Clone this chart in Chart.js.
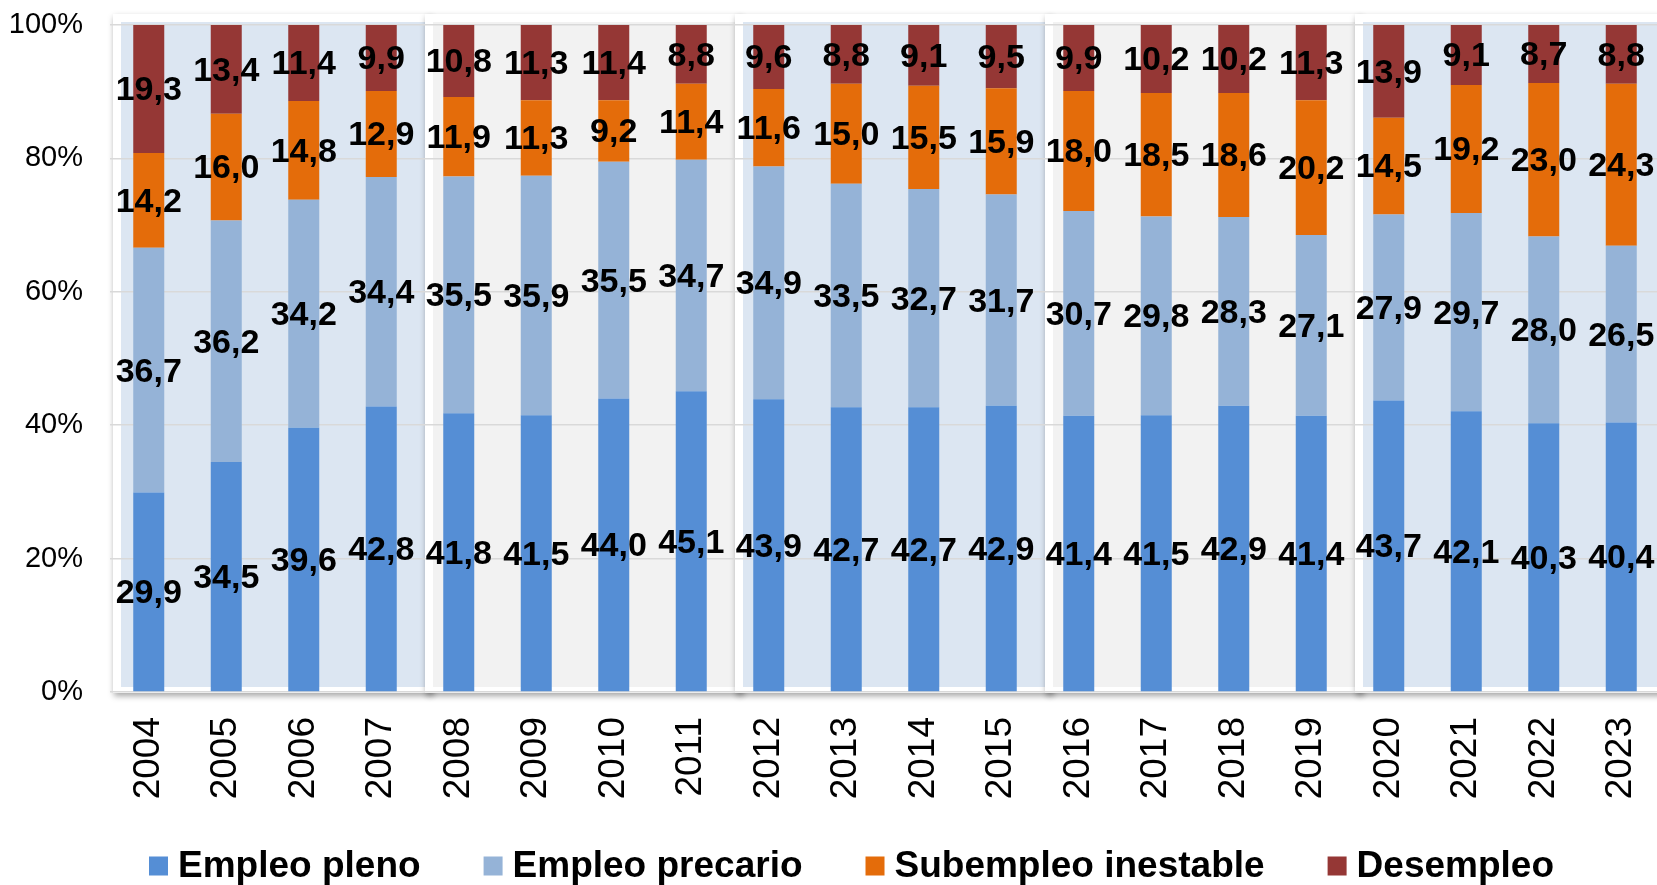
<!DOCTYPE html>
<html lang="es">
<head>
<meta charset="utf-8">
<title>Distribución de la PEA</title>
<script src="https://cdn.jsdelivr.net/npm/chart.js@4.4.1/dist/chart.umd.min.js"></script>
<style>
    html, body { margin: 0; padding: 0; background: #ffffff; overflow: hidden; }
    #wrap { width: 1657px; height: 885px; overflow: hidden; position: relative; }
    #pea { display: block; }
</style>
</head>
<body>
<div id="wrap"><canvas id="pea" width="1700" height="885"></canvas></div>
<script>
// Datos (porcentajes)
const years = ['2004', '2005', '2006', '2007', '2008', '2009', '2010', '2011', '2012', '2013',
               '2014', '2015', '2016', '2017', '2018', '2019', '2020', '2021', '2022', '2023'];
const empleoPleno = [29.9, 34.5, 39.6, 42.8, 41.8, 41.5, 44.0, 45.1, 43.9, 42.7,
                     42.7, 42.9, 41.4, 41.5, 42.9, 41.4, 43.7, 42.1, 40.3, 40.4];
const empleoPrecario = [36.7, 36.2, 34.2, 34.4, 35.5, 35.9, 35.5, 34.7, 34.9, 33.5,
                        32.7, 31.7, 30.7, 29.8, 28.3, 27.1, 27.9, 29.7, 28.0, 26.5];
const subempleoInestable = [14.2, 16.0, 14.8, 12.9, 11.9, 11.3, 9.2, 11.4, 11.6, 15.0,
                            15.5, 15.9, 18.0, 18.5, 18.6, 20.2, 14.5, 19.2, 23.0, 24.3];
const desempleo = [19.3, 13.4, 11.4, 9.9, 10.8, 11.3, 11.4, 8.8, 9.6, 8.8,
                   9.1, 9.5, 9.9, 10.2, 10.2, 11.3, 13.9, 9.1, 8.7, 8.8];
const yTicks = [0, 20, 40, 60, 80, 100];

// Bloques de fondo de cuatro años
const bandStart = [0, 4, 8, 12, 16];
const bandColors = ['#DCE6F2', '#F2F2F2', '#DCE6F2', '#F2F2F2', '#DCE6F2'];

const FONT = '"Liberation Sans", Arial, sans-serif';

/**
 * Dibuja los recuadros de fondo (marco blanco con sombra + relleno).
 */
const bandsPlugin = {
    id: 'bands',
    beforeDraw(chart) {
        const { ctx, chartArea } = chart;
        const xs = chart.scales.x;
        const cw = xs.getPixelForValue(1) - xs.getPixelForValue(0);
        ctx.save();
        bandStart.forEach((start, g) => {
            const b0 = xs.getPixelForValue(start) - cw / 2;
            const b1 = xs.getPixelForValue(start + 3) + cw / 2;
            const innerL = b0 + (g === 0 ? 11 : 13);
            const innerR = b1 + 5;
            const top = chartArea.top - 3;
            const bottom = chartArea.bottom - 5;
            // marco
            ctx.shadowColor = 'rgba(0,0,0,0.35)';
            ctx.shadowBlur = 6;
            ctx.shadowOffsetX = 1;
            ctx.shadowOffsetY = 3;
            ctx.fillStyle = '#ffffff';
            ctx.fillRect(innerL - 8, chartArea.top - 11, innerR - innerL + 16, chartArea.bottom + 1 - (chartArea.top - 11));
            ctx.shadowColor = 'transparent';
            ctx.shadowBlur = 0;
            ctx.shadowOffsetX = 0;
            ctx.shadowOffsetY = 0;
            ctx.fillStyle = bandColors[g];
            ctx.fillRect(innerL, top, innerR - innerL, bottom - top);
        });
        ctx.restore();
    }
};

/**
 * Etiquetas de valores centradas en cada segmento.
 */
const valueLabelsPlugin = {
    id: 'valueLabels',
    afterDatasetsDraw(chart) {
        const { ctx } = chart;
        ctx.save();
        ctx.font = 'bold 34px ' + FONT;
        ctx.fillStyle = '#000000';
        ctx.textAlign = 'center';
        ctx.textBaseline = 'middle';
        chart.data.datasets.forEach((ds, i) => {
            const meta = chart.getDatasetMeta(i);
            meta.data.forEach((bar, j) => {
                const txt = ds.data[j].toFixed(1).replace('.', ',');
                const yTop = Math.max(bar.y, chart.chartArea.top);
                ctx.fillText(txt, bar.x, (yTop + bar.base) / 2 + 2);
            });
        });
        ctx.restore();
    }
};

/**
 * Leyenda inferior dibujada a mano.
 */
const legendPlugin = {
    id: 'customLegend',
    afterDraw(chart) {
        const { ctx } = chart;
        ctx.save();
        ctx.font = 'bold 37px ' + FONT;
        ctx.textBaseline = 'middle';
        ctx.textAlign = 'left';
        let x = 149;
        const y = 866;
        chart.data.datasets.forEach((ds) => {
            ctx.fillStyle = ds.backgroundColor;
            ctx.fillRect(x, y - 9.5, 19, 19);
            ctx.fillStyle = '#000000';
            ctx.fillText(ds.label, x + 29, y + 1);
            x += 29 + ctx.measureText(ds.label).width + 63;
        });
        ctx.restore();
    }
};

function initializeChart(canvasId) {
    const el = document.getElementById(canvasId);
    if (!el) {
        console.error('No se encontró el canvas ' + canvasId);
        return;
    }
    new Chart(el.getContext('2d'), {
        type: 'bar',
        data: {
            labels: years,
            datasets: [
                { label: 'Empleo pleno', data: empleoPleno, backgroundColor: '#558ED5' },
                { label: 'Empleo precario', data: empleoPrecario, backgroundColor: '#95B3D7' },
                { label: 'Subempleo inestable', data: subempleoInestable, backgroundColor: '#E46C0A' },
                { label: 'Desempleo', data: desempleo, backgroundColor: '#953735' }
            ]
        },
        options: {
            responsive: false,
            animation: false,
            devicePixelRatio: 1,
            layout: { padding: { left: 0, right: 40, top: 25, bottom: 80 } },
            datasets: { bar: { categoryPercentage: 0.8, barPercentage: 0.5 } },
            plugins: {
                legend: { display: false },
                tooltip: { enabled: false }
            },
            scales: {
                x: {
                    stacked: true,
                    grid: { display: false, drawTicks: false },
                    border: { display: false },
                    ticks: {
                        autoSkip: false,
                        minRotation: 90,
                        maxRotation: 90,
                        padding: 25,
                        color: '#000000',
                        font: { family: FONT, size: 37 }
                    },
                    afterFit(scale) { scale.height = 113; }
                },
                y: {
                    stacked: true,
                    min: 0,
                    max: 100,
                    afterBuildTicks(scale) { scale.ticks = yTicks.map(v => ({ value: v })); },
                    grid: { color: '#D9D9D9', lineWidth: 1.5, drawTicks: false },
                    border: { display: false },
                    ticks: {
                        padding: 27,
                        color: '#000000',
                        font: { family: FONT, size: 29 },
                        callback: (v) => v + '%'
                    },
                    afterFit(scale) {
                        scale.width = 110;
                        scale.paddingTop = 0;
                        scale.paddingBottom = 0;
                    }
                }
            }
        },
        plugins: [bandsPlugin, valueLabelsPlugin, legendPlugin]
    });
}

document.addEventListener('DOMContentLoaded', () => initializeChart('pea'));
</script>
</body>
</html>
